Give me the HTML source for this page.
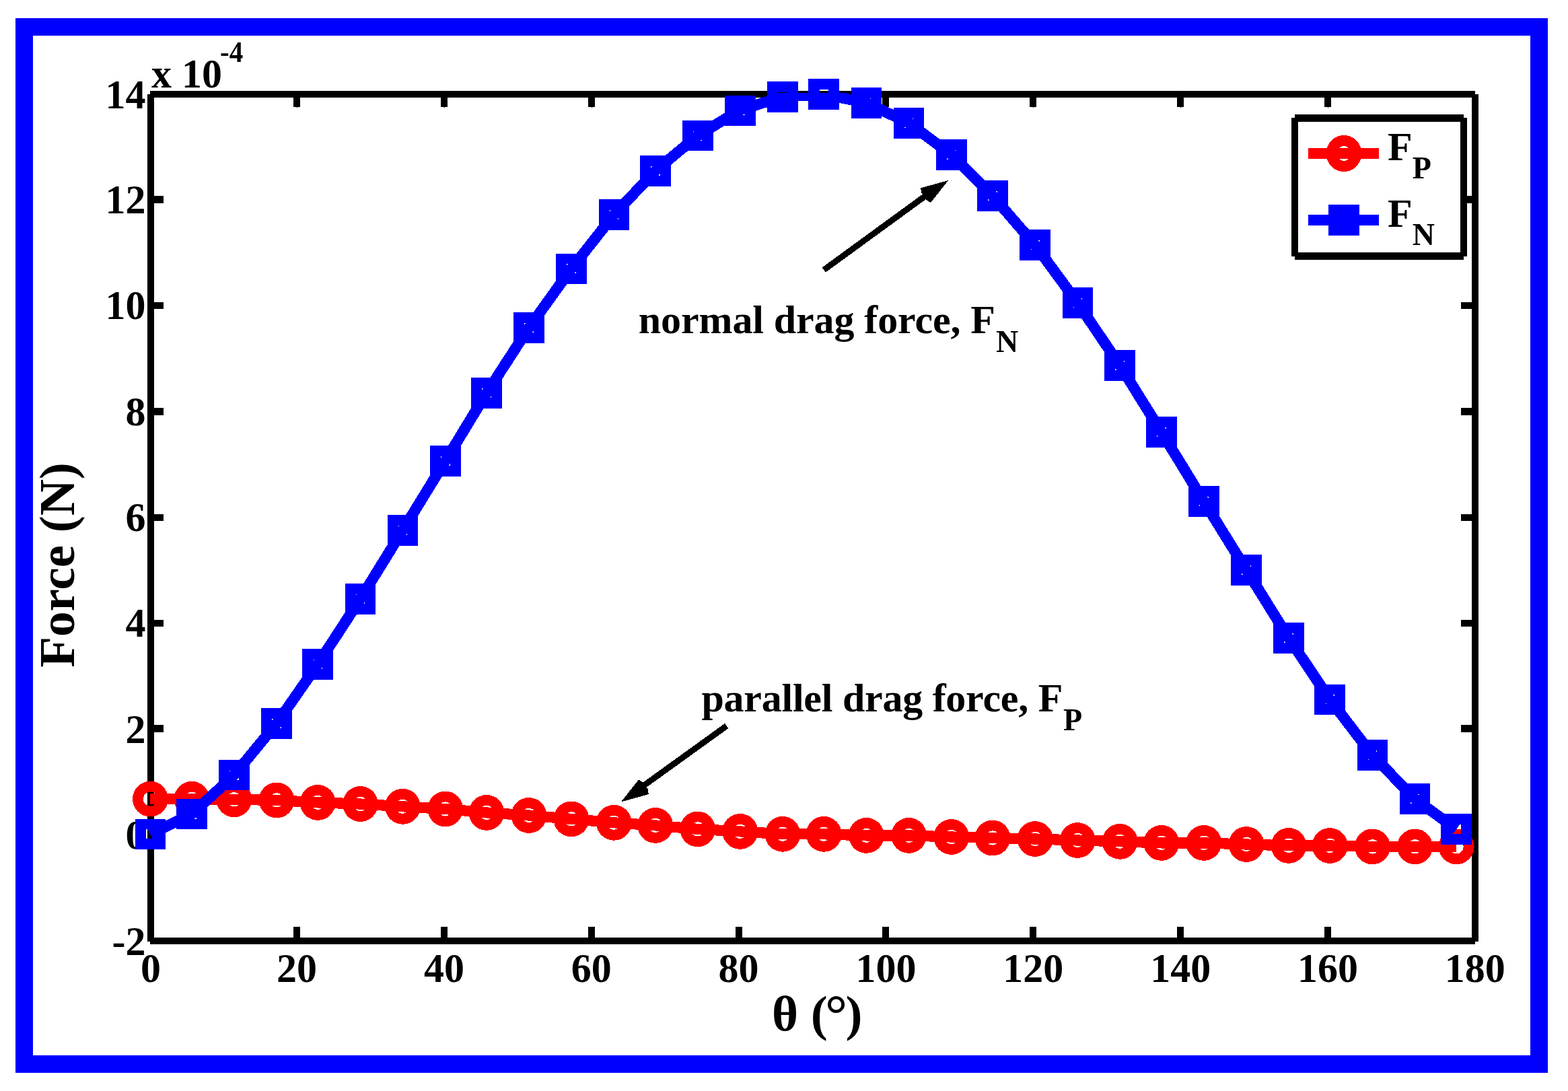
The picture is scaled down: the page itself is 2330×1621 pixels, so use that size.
<!DOCTYPE html>
<html lang="en"><head><meta charset="utf-8"><title>Drag force vs angle</title>
<style>
html,body{margin:0;padding:0;background:#fff;}
body{width:2330px;height:1621px;}
svg{display:block;}
text{font-family:"Liberation Serif",serif;font-weight:bold;fill:#000;}
.t60{font-size:60px;}
.t75{font-size:75px;}
.sub{font-size:46px;}
.sup{font-size:41px;}
</style></head><body>
<svg width="2330" height="1621" viewBox="0 0 2330 1621">
<defs><clipPath id="plotclip"><rect x="219" y="138" width="1978" height="1265"/></clipPath></defs>
<rect x="0" y="0" width="2330" height="1621" fill="#fff"/>
<g id="frame" shape-rendering="crispEdges">
<path fill="#0000ff" fill-rule="evenodd" d="M23 27H2300V1594H23Z M49 53V1568H2274V53Z"/>
</g>
<g id="axes" shape-rendering="crispEdges" fill="#000">
<rect x="219" y="140" width="10" height="1259"/>
<rect x="2187" y="140" width="10" height="1259"/>
<rect x="223" y="135" width="1969" height="10"/>
<rect x="223" y="1393" width="1969" height="10"/>
<rect x="436" y="1377" width="10" height="17"/>
<rect x="436" y="144" width="10" height="15"/>
<rect x="441" y="159" width="1" height="1"/>
<rect x="655" y="1377" width="10" height="17"/>
<rect x="655" y="144" width="10" height="15"/>
<rect x="660" y="159" width="1" height="1"/>
<rect x="874" y="1377" width="10" height="17"/>
<rect x="874" y="144" width="10" height="15"/>
<rect x="879" y="159" width="1" height="1"/>
<rect x="1093" y="1377" width="10" height="17"/>
<rect x="1093" y="144" width="10" height="15"/>
<rect x="1098" y="159" width="1" height="1"/>
<rect x="1311" y="1377" width="10" height="17"/>
<rect x="1311" y="144" width="10" height="15"/>
<rect x="1316" y="159" width="1" height="1"/>
<rect x="1530" y="1377" width="10" height="17"/>
<rect x="1530" y="144" width="10" height="15"/>
<rect x="1535" y="159" width="1" height="1"/>
<rect x="1749" y="1377" width="10" height="17"/>
<rect x="1749" y="144" width="10" height="15"/>
<rect x="1754" y="159" width="1" height="1"/>
<rect x="1968" y="1377" width="10" height="17"/>
<rect x="1968" y="144" width="10" height="15"/>
<rect x="1973" y="159" width="1" height="1"/>
<rect x="228" y="291" width="15" height="11"/>
<rect x="2171" y="291" width="17" height="11"/>
<rect x="228" y="449" width="15" height="10"/>
<rect x="2171" y="449" width="17" height="10"/>
<rect x="228" y="606" width="15" height="11"/>
<rect x="2171" y="606" width="17" height="11"/>
<rect x="228" y="764" width="15" height="10"/>
<rect x="2171" y="764" width="17" height="10"/>
<rect x="228" y="921" width="15" height="10"/>
<rect x="2171" y="921" width="17" height="10"/>
<rect x="228" y="1077" width="15" height="11"/>
<rect x="2171" y="1077" width="17" height="11"/>
<rect x="228" y="1235" width="15" height="10"/>
<rect x="2171" y="1235" width="17" height="10"/>
</g>
<g id="ticklabels" class="t60">
<text transform="translate(216.5 1418.6) scale(1 1.035)" text-anchor="end">-2</text>
<text transform="translate(216.5 1260.9) scale(1 1.035)" text-anchor="end">0</text>
<text transform="translate(216.5 1103.6) scale(1 1.035)" text-anchor="end">2</text>
<text transform="translate(216.5 946.3) scale(1 1.035)" text-anchor="end">4</text>
<text transform="translate(216.5 789.0) scale(1 1.035)" text-anchor="end">6</text>
<text transform="translate(216.5 631.7) scale(1 1.035)" text-anchor="end">8</text>
<text transform="translate(216.5 474.4) scale(1 1.035)" text-anchor="end">10</text>
<text transform="translate(216.5 317.1) scale(1 1.035)" text-anchor="end">12</text>
<text transform="translate(216.5 161.0) scale(1 1.035)" text-anchor="end">14</text>
<text transform="translate(224.0 1458.5) scale(1 1.035)" text-anchor="middle">0</text>
<text transform="translate(441.0 1458.5) scale(1 1.035)" text-anchor="middle">20</text>
<text transform="translate(659.9 1458.5) scale(1 1.035)" text-anchor="middle">40</text>
<text transform="translate(878.8 1458.5) scale(1 1.035)" text-anchor="middle">60</text>
<text transform="translate(1097.6 1458.5) scale(1 1.035)" text-anchor="middle">80</text>
<text transform="translate(1316.5 1458.5) scale(1 1.035)" text-anchor="middle">100</text>
<text transform="translate(1535.3 1458.5) scale(1 1.035)" text-anchor="middle">120</text>
<text transform="translate(1754.2 1458.5) scale(1 1.035)" text-anchor="middle">140</text>
<text transform="translate(1973.0 1458.5) scale(1 1.035)" text-anchor="middle">160</text>
<text transform="translate(2191.8 1458.5) scale(1 1.035)" text-anchor="middle">180</text>
<text transform="translate(225 129.7) scale(1 1.035)">x 10</text>
<text transform="translate(327 91.8) scale(1 1.06)" class="sup">-4</text>
</g>
<g id="axislabels" class="t75">
<text y="1530.7"><tspan x="1146.9">θ (</tspan><tspan x="1226" dy="3.8" font-size="83">°</tspan><tspan x="1256.5" dy="-3.8">)</tspan></text>
<text transform="translate(110.2 839.5) rotate(-90)" text-anchor="middle">Force (N)</text>
</g>
<g id="series-fp" shape-rendering="crispEdges">
<polyline clip-path="url(#plotclip)" points="223.4,1187.1 285.0,1187.2 347.9,1187.8 411.1,1188.9 472.2,1192.4 535.5,1194.5 598.4,1198.3 661.8,1202.0 723.0,1207.4 786.0,1211.5 849.0,1216.9 912.3,1222.3 973.8,1226.4 1036.7,1231.9 1099.8,1235.4 1163.0,1239.3 1224.2,1239.3 1287.4,1241.4 1350.6,1241.4 1413.7,1243.5 1474.9,1245.0 1538.2,1246.5 1601.3,1248.5 1664.2,1250.3 1725.8,1252.4 1788.8,1252.4 1852.1,1254.5 1915.0,1256.4 1976.2,1256.5 2039.4,1257.9 2102.6,1257.9 2164.2,1257.9" fill="none" stroke="#ff0000" stroke-width="16.2" stroke-linejoin="miter" stroke-linecap="butt"/>
<path fill="#ff0000" fill-rule="evenodd" d="M197.00 1187.10a26.4 26.4 0 1 0 52.80 0a26.4 26.4 0 1 0 -52.80 0Z M212.90 1187.10a10.5 10.6 0 1 0 21.00 0a10.5 10.6 0 1 0 -21.00 0Z"/>
<path fill="#ff0000" fill-rule="evenodd" d="M258.60 1187.20a26.4 26.4 0 1 0 52.80 0a26.4 26.4 0 1 0 -52.80 0Z M274.50 1187.20a10.5 10.6 0 1 0 21.00 0a10.5 10.6 0 1 0 -21.00 0Z"/>
<path fill="#ff0000" fill-rule="evenodd" d="M321.50 1187.80a26.4 26.4 0 1 0 52.80 0a26.4 26.4 0 1 0 -52.80 0Z M337.40 1187.80a10.5 10.6 0 1 0 21.00 0a10.5 10.6 0 1 0 -21.00 0Z"/>
<path fill="#ff0000" fill-rule="evenodd" d="M384.70 1188.90a26.4 26.4 0 1 0 52.80 0a26.4 26.4 0 1 0 -52.80 0Z M400.60 1188.90a10.5 10.6 0 1 0 21.00 0a10.5 10.6 0 1 0 -21.00 0Z"/>
<path fill="#ff0000" fill-rule="evenodd" d="M445.80 1192.40a26.4 26.4 0 1 0 52.80 0a26.4 26.4 0 1 0 -52.80 0Z M461.70 1192.40a10.5 10.6 0 1 0 21.00 0a10.5 10.6 0 1 0 -21.00 0Z"/>
<path fill="#ff0000" fill-rule="evenodd" d="M509.05 1194.50a26.4 26.4 0 1 0 52.80 0a26.4 26.4 0 1 0 -52.80 0Z M524.95 1194.50a10.5 10.6 0 1 0 21.00 0a10.5 10.6 0 1 0 -21.00 0Z"/>
<path fill="#ff0000" fill-rule="evenodd" d="M572.00 1198.30a26.4 26.4 0 1 0 52.80 0a26.4 26.4 0 1 0 -52.80 0Z M587.90 1198.30a10.5 10.6 0 1 0 21.00 0a10.5 10.6 0 1 0 -21.00 0Z"/>
<path fill="#ff0000" fill-rule="evenodd" d="M635.40 1202.00a26.4 26.4 0 1 0 52.80 0a26.4 26.4 0 1 0 -52.80 0Z M651.30 1202.00a10.5 10.6 0 1 0 21.00 0a10.5 10.6 0 1 0 -21.00 0Z"/>
<path fill="#ff0000" fill-rule="evenodd" d="M696.60 1207.40a26.4 26.4 0 1 0 52.80 0a26.4 26.4 0 1 0 -52.80 0Z M712.50 1207.40a10.5 10.6 0 1 0 21.00 0a10.5 10.6 0 1 0 -21.00 0Z"/>
<path fill="#ff0000" fill-rule="evenodd" d="M759.60 1211.50a26.4 26.4 0 1 0 52.80 0a26.4 26.4 0 1 0 -52.80 0Z M775.50 1211.50a10.5 10.6 0 1 0 21.00 0a10.5 10.6 0 1 0 -21.00 0Z"/>
<path fill="#ff0000" fill-rule="evenodd" d="M822.60 1216.90a26.4 26.4 0 1 0 52.80 0a26.4 26.4 0 1 0 -52.80 0Z M838.50 1216.90a10.5 10.6 0 1 0 21.00 0a10.5 10.6 0 1 0 -21.00 0Z"/>
<path fill="#ff0000" fill-rule="evenodd" d="M885.90 1222.30a26.4 26.4 0 1 0 52.80 0a26.4 26.4 0 1 0 -52.80 0Z M901.80 1222.30a10.5 10.6 0 1 0 21.00 0a10.5 10.6 0 1 0 -21.00 0Z"/>
<path fill="#ff0000" fill-rule="evenodd" d="M947.40 1226.40a26.4 26.4 0 1 0 52.80 0a26.4 26.4 0 1 0 -52.80 0Z M963.30 1226.40a10.5 10.6 0 1 0 21.00 0a10.5 10.6 0 1 0 -21.00 0Z"/>
<path fill="#ff0000" fill-rule="evenodd" d="M1010.30 1231.90a26.4 26.4 0 1 0 52.80 0a26.4 26.4 0 1 0 -52.80 0Z M1026.20 1231.90a10.5 10.6 0 1 0 21.00 0a10.5 10.6 0 1 0 -21.00 0Z"/>
<path fill="#ff0000" fill-rule="evenodd" d="M1073.40 1235.40a26.4 26.4 0 1 0 52.80 0a26.4 26.4 0 1 0 -52.80 0Z M1089.30 1235.40a10.5 10.6 0 1 0 21.00 0a10.5 10.6 0 1 0 -21.00 0Z"/>
<path fill="#ff0000" fill-rule="evenodd" d="M1136.60 1239.30a26.4 26.4 0 1 0 52.80 0a26.4 26.4 0 1 0 -52.80 0Z M1152.50 1239.30a10.5 10.6 0 1 0 21.00 0a10.5 10.6 0 1 0 -21.00 0Z"/>
<path fill="#ff0000" fill-rule="evenodd" d="M1197.80 1239.30a26.4 26.4 0 1 0 52.80 0a26.4 26.4 0 1 0 -52.80 0Z M1213.70 1239.30a10.5 10.6 0 1 0 21.00 0a10.5 10.6 0 1 0 -21.00 0Z"/>
<path fill="#ff0000" fill-rule="evenodd" d="M1261.00 1241.40a26.4 26.4 0 1 0 52.80 0a26.4 26.4 0 1 0 -52.80 0Z M1276.90 1241.40a10.5 10.6 0 1 0 21.00 0a10.5 10.6 0 1 0 -21.00 0Z"/>
<path fill="#ff0000" fill-rule="evenodd" d="M1324.20 1241.40a26.4 26.4 0 1 0 52.80 0a26.4 26.4 0 1 0 -52.80 0Z M1340.10 1241.40a10.5 10.6 0 1 0 21.00 0a10.5 10.6 0 1 0 -21.00 0Z"/>
<path fill="#ff0000" fill-rule="evenodd" d="M1387.30 1243.50a26.4 26.4 0 1 0 52.80 0a26.4 26.4 0 1 0 -52.80 0Z M1403.20 1243.50a10.5 10.6 0 1 0 21.00 0a10.5 10.6 0 1 0 -21.00 0Z"/>
<path fill="#ff0000" fill-rule="evenodd" d="M1448.50 1245.00a26.4 26.4 0 1 0 52.80 0a26.4 26.4 0 1 0 -52.80 0Z M1464.40 1245.00a10.5 10.6 0 1 0 21.00 0a10.5 10.6 0 1 0 -21.00 0Z"/>
<path fill="#ff0000" fill-rule="evenodd" d="M1511.80 1246.50a26.4 26.4 0 1 0 52.80 0a26.4 26.4 0 1 0 -52.80 0Z M1527.70 1246.50a10.5 10.6 0 1 0 21.00 0a10.5 10.6 0 1 0 -21.00 0Z"/>
<path fill="#ff0000" fill-rule="evenodd" d="M1574.90 1248.50a26.4 26.4 0 1 0 52.80 0a26.4 26.4 0 1 0 -52.80 0Z M1590.80 1248.50a10.5 10.6 0 1 0 21.00 0a10.5 10.6 0 1 0 -21.00 0Z"/>
<path fill="#ff0000" fill-rule="evenodd" d="M1637.75 1250.35a26.4 26.4 0 1 0 52.80 0a26.4 26.4 0 1 0 -52.80 0Z M1653.65 1250.35a10.5 10.6 0 1 0 21.00 0a10.5 10.6 0 1 0 -21.00 0Z"/>
<path fill="#ff0000" fill-rule="evenodd" d="M1699.40 1252.40a26.4 26.4 0 1 0 52.80 0a26.4 26.4 0 1 0 -52.80 0Z M1715.30 1252.40a10.5 10.6 0 1 0 21.00 0a10.5 10.6 0 1 0 -21.00 0Z"/>
<path fill="#ff0000" fill-rule="evenodd" d="M1762.40 1252.40a26.4 26.4 0 1 0 52.80 0a26.4 26.4 0 1 0 -52.80 0Z M1778.30 1252.40a10.5 10.6 0 1 0 21.00 0a10.5 10.6 0 1 0 -21.00 0Z"/>
<path fill="#ff0000" fill-rule="evenodd" d="M1825.70 1254.50a26.4 26.4 0 1 0 52.80 0a26.4 26.4 0 1 0 -52.80 0Z M1841.60 1254.50a10.5 10.6 0 1 0 21.00 0a10.5 10.6 0 1 0 -21.00 0Z"/>
<path fill="#ff0000" fill-rule="evenodd" d="M1888.60 1256.40a26.4 26.4 0 1 0 52.80 0a26.4 26.4 0 1 0 -52.80 0Z M1904.50 1256.40a10.5 10.6 0 1 0 21.00 0a10.5 10.6 0 1 0 -21.00 0Z"/>
<path fill="#ff0000" fill-rule="evenodd" d="M1949.80 1256.50a26.4 26.4 0 1 0 52.80 0a26.4 26.4 0 1 0 -52.80 0Z M1965.70 1256.50a10.5 10.6 0 1 0 21.00 0a10.5 10.6 0 1 0 -21.00 0Z"/>
<path fill="#ff0000" fill-rule="evenodd" d="M2013.00 1257.90a26.4 26.4 0 1 0 52.80 0a26.4 26.4 0 1 0 -52.80 0Z M2028.90 1257.90a10.5 10.6 0 1 0 21.00 0a10.5 10.6 0 1 0 -21.00 0Z"/>
<path fill="#ff0000" fill-rule="evenodd" d="M2076.20 1257.90a26.4 26.4 0 1 0 52.80 0a26.4 26.4 0 1 0 -52.80 0Z M2092.10 1257.90a10.5 10.6 0 1 0 21.00 0a10.5 10.6 0 1 0 -21.00 0Z"/>
<path fill="#ff0000" fill-rule="evenodd" d="M2137.80 1257.90a26.4 26.4 0 1 0 52.80 0a26.4 26.4 0 1 0 -52.80 0Z M2153.70 1257.90a10.5 10.6 0 1 0 21.00 0a10.5 10.6 0 1 0 -21.00 0Z"/>
</g>
<g id="series-fn" shape-rendering="crispEdges">
<polyline clip-path="url(#plotclip)" points="223.4,1239.5 285.0,1209.5 347.9,1151.6 411.1,1074.8 472.2,987.0 535.5,889.8 598.4,787.9 661.8,684.8 723.0,584.0 786.0,486.9 849.0,399.3 912.3,319.2 973.8,253.7 1036.7,201.6 1099.1,163.6 1163.0,143.8 1224.2,139.9 1287.4,152.9 1350.6,182.8 1413.7,229.8 1474.9,290.9 1538.2,364.1 1601.3,450.0 1664.2,543.0 1725.8,641.8 1788.8,744.7 1852.1,846.9 1915.0,948.0 1976.2,1039.3 2039.4,1122.0 2102.6,1187.1 2164.2,1232.0" fill="none" stroke="#0000ff" stroke-width="16.2" stroke-linejoin="miter" stroke-linecap="butt"/>
<path fill="#0000ff" fill-rule="evenodd" d="M200.60 1216.65h45.60v45.60h-45.60Z M216.70 1232.45v14.00h13.40v-14.00Z"/>
<path fill="#0000ff" fill-rule="evenodd" d="M262.20 1186.70h45.60v45.60h-45.60Z M278.30 1202.50v14.00h13.40v-14.00Z"/>
<path fill="#0000ff" fill-rule="evenodd" d="M325.10 1128.80h45.60v45.60h-45.60Z M341.20 1144.60v14.00h13.40v-14.00Z"/>
<path fill="#0000ff" fill-rule="evenodd" d="M388.30 1052.00h45.60v45.60h-45.60Z M404.40 1067.80v14.00h13.40v-14.00Z"/>
<path fill="#0000ff" fill-rule="evenodd" d="M449.40 964.20h45.60v45.60h-45.60Z M465.50 980.00v14.00h13.40v-14.00Z"/>
<path fill="#0000ff" fill-rule="evenodd" d="M512.65 867.00h45.60v45.60h-45.60Z M528.75 882.80v14.00h13.40v-14.00Z"/>
<path fill="#0000ff" fill-rule="evenodd" d="M575.60 765.05h45.60v45.60h-45.60Z M591.70 780.85v14.00h13.40v-14.00Z"/>
<path fill="#0000ff" fill-rule="evenodd" d="M639.00 662.00h45.60v45.60h-45.60Z M655.10 677.80v14.00h13.40v-14.00Z"/>
<path fill="#0000ff" fill-rule="evenodd" d="M700.20 561.20h45.60v45.60h-45.60Z M716.30 577.00v14.00h13.40v-14.00Z"/>
<path fill="#0000ff" fill-rule="evenodd" d="M763.20 464.10h45.60v45.60h-45.60Z M779.30 479.90v14.00h13.40v-14.00Z"/>
<path fill="#0000ff" fill-rule="evenodd" d="M826.20 376.50h45.60v45.60h-45.60Z M842.30 392.30v14.00h13.40v-14.00Z"/>
<path fill="#0000ff" fill-rule="evenodd" d="M889.50 296.40h45.60v45.60h-45.60Z M905.60 312.20v14.00h13.40v-14.00Z"/>
<path fill="#0000ff" fill-rule="evenodd" d="M951.00 230.90h45.60v45.60h-45.60Z M967.10 246.70v14.00h13.40v-14.00Z"/>
<path fill="#0000ff" fill-rule="evenodd" d="M1013.90 178.80h45.60v45.60h-45.60Z M1030.00 194.60v14.00h13.40v-14.00Z"/>
<path fill="#0000ff" fill-rule="evenodd" d="M1077.00 141.50h45.60v45.60h-45.60Z M1093.10 157.30v14.00h13.40v-14.00Z"/>
<path fill="#0000ff" fill-rule="evenodd" d="M1140.20 121.00h45.60v45.60h-45.60Z M1156.30 136.80v14.00h13.40v-14.00Z"/>
<path fill="#0000ff" fill-rule="evenodd" d="M1201.40 117.10h45.60v45.60h-45.60Z M1217.50 132.90v14.00h13.40v-14.00Z"/>
<path fill="#0000ff" fill-rule="evenodd" d="M1264.60 130.10h45.60v45.60h-45.60Z M1280.70 145.90v14.00h13.40v-14.00Z"/>
<path fill="#0000ff" fill-rule="evenodd" d="M1327.80 160.00h45.60v45.60h-45.60Z M1343.90 175.80v14.00h13.40v-14.00Z"/>
<path fill="#0000ff" fill-rule="evenodd" d="M1390.90 207.00h45.60v45.60h-45.60Z M1407.00 222.80v14.00h13.40v-14.00Z"/>
<path fill="#0000ff" fill-rule="evenodd" d="M1452.10 268.10h45.60v45.60h-45.60Z M1468.20 283.90v14.00h13.40v-14.00Z"/>
<path fill="#0000ff" fill-rule="evenodd" d="M1515.40 341.30h45.60v45.60h-45.60Z M1531.50 357.10v14.00h13.40v-14.00Z"/>
<path fill="#0000ff" fill-rule="evenodd" d="M1578.50 427.20h45.60v45.60h-45.60Z M1594.60 443.00v14.00h13.40v-14.00Z"/>
<path fill="#0000ff" fill-rule="evenodd" d="M1641.35 520.20h45.60v45.60h-45.60Z M1657.45 536.00v14.00h13.40v-14.00Z"/>
<path fill="#0000ff" fill-rule="evenodd" d="M1703.00 619.00h45.60v45.60h-45.60Z M1719.10 634.80v14.00h13.40v-14.00Z"/>
<path fill="#0000ff" fill-rule="evenodd" d="M1766.00 721.90h45.60v45.60h-45.60Z M1782.10 737.70v14.00h13.40v-14.00Z"/>
<path fill="#0000ff" fill-rule="evenodd" d="M1829.30 824.10h45.60v45.60h-45.60Z M1845.40 839.90v14.00h13.40v-14.00Z"/>
<path fill="#0000ff" fill-rule="evenodd" d="M1892.20 925.20h45.60v45.60h-45.60Z M1908.30 941.00v14.00h13.40v-14.00Z"/>
<path fill="#0000ff" fill-rule="evenodd" d="M1953.40 1016.50h45.60v45.60h-45.60Z M1969.50 1032.30v14.00h13.40v-14.00Z"/>
<path fill="#0000ff" fill-rule="evenodd" d="M2016.60 1099.20h45.60v45.60h-45.60Z M2032.70 1115.00v14.00h13.40v-14.00Z"/>
<path fill="#0000ff" fill-rule="evenodd" d="M2079.80 1164.30h45.60v45.60h-45.60Z M2095.90 1180.10v14.00h13.40v-14.00Z"/>
<path fill="#0000ff" fill-rule="evenodd" d="M2141.40 1209.20h45.60v45.60h-45.60Z M2157.50 1225.00v14.00h13.40v-14.00Z"/>
</g>
<g id="legend" shape-rendering="crispEdges">
<g shape-rendering="crispEdges">
<rect x="1924" y="175" width="251" height="206" fill="#fff"/>
<rect x="1924" y="170" width="251" height="11" fill="#000"/>
<rect x="1924" y="375" width="251" height="11" fill="#000"/>
<rect x="1919" y="175" width="10" height="206" fill="#000"/>
<rect x="2170" y="175" width="10" height="206" fill="#000"/>
<rect x="1944" y="220" width="105" height="16" fill="#ff0000"/>
<rect x="1944" y="319" width="105" height="16" fill="#0000ff"/>
<rect x="1974" y="304" width="46" height="46" fill="#0000ff"/>
</g>
<path fill="#ff0000" fill-rule="evenodd" d="M1970.70 228.00a26.3 27.1 0 1 0 52.60 0a26.3 27.1 0 1 0 -52.60 0Z M1987.20 228.00a9.8 11 0 1 0 19.60 0a9.8 11 0 1 0 -19.60 0Z"/>
<text class="t60" x="2062" y="238">F<tspan class="sub" dx="0" dy="27">P</tspan></text>
<text class="t60" x="2062" y="337">F<tspan class="sub" dx="0" dy="27">N</tspan></text>
</g>
<g id="annotations" shape-rendering="crispEdges">
<line x1="1224.3" y1="401.0" x2="1374.4" y2="291.6" stroke="#000" stroke-width="9"/><polygon points="1409.2,268.0 1368.1,279.3 1369.3,286.8 1377.1,297.7 1383.1,300.9" fill="#000"/>
<line x1="1079.7" y1="1078.5" x2="956.9" y2="1167.0" stroke="#000" stroke-width="9"/><polygon points="922.8,1191.5 963.9,1180.1 962.7,1172.6 954.9,1161.8 948.9,1158.6" fill="#000"/>
<text class="t60" x="948.8" y="494.5" letter-spacing="-0.1">normal drag force, F<tspan class="sub" dx="1" dy="28">N</tspan></text>
<text class="t60" x="1042.5" y="1056.7" letter-spacing="-0.25">parallel drag force, F<tspan class="sub" dx="1" dy="28">P</tspan></text>
</g>
</svg>
</body></html>
